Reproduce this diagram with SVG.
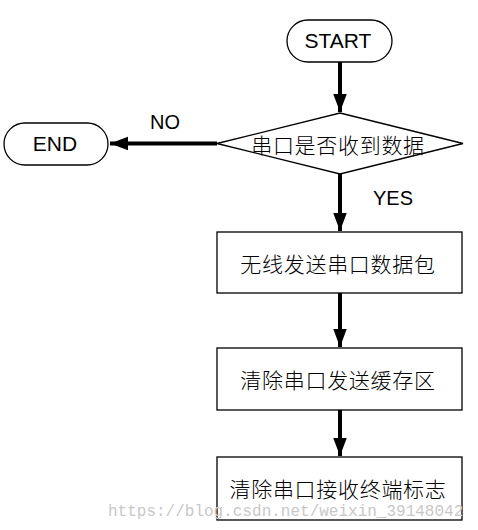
<svg xmlns="http://www.w3.org/2000/svg" width="478" height="530" viewBox="0 0 478 530">
<style>
.shape{fill:#fff;stroke:#000;stroke-width:1.3}
.t{font-family:"Liberation Sans","Noto Sans CJK SC",sans-serif;font-size:21px;fill:#000;text-anchor:middle;dominant-baseline:central}
.c{font-family:"Noto Sans CJK SC","Liberation Sans",sans-serif;font-size:21px;font-weight:300;fill:#000;text-anchor:middle;dominant-baseline:central;letter-spacing:0.7px}
.conn{stroke:#000;stroke-width:4;fill:none}
.wm{font-family:"Liberation Mono",monospace;font-size:16px;fill:#c8c8c8}
</style>
<defs>
<marker id="ah" markerUnits="userSpaceOnUse" markerWidth="18" markerHeight="24" viewBox="0 0 24 18" refX="24" refY="9" orient="auto">
<path d="M0,0 L24,9 L0,18 Z" fill="#000"/>
</marker>
</defs>
<g id="connectors">
<path class="conn" d="M340,62 L340,112" marker-end="url(#ah)"/>
<path class="conn" d="M217,143.5 L110,143.5" marker-end="url(#ah)"/>
<path class="conn" d="M340,174 L340,231" marker-end="url(#ah)"/>
<path class="conn" d="M340,293 L340,347" marker-end="url(#ah)"/>
<path class="conn" d="M340,410 L340,456" marker-end="url(#ah)"/>
<text class="t" x="165" y="122" style="font-size:20px">NO</text>
<text class="t" x="393" y="198" style="font-size:20px">YES</text>
</g>
<g id="start">
<rect class="shape" x="287" y="20" width="105" height="42" rx="21"/>
<text class="t" x="338" y="40">START</text>
</g>
<g id="end">
<rect class="shape" x="4" y="123" width="104" height="42" rx="21"/>
<text class="t" x="55" y="143">END</text>
</g>
<g id="decision">
<polygon class="shape" points="340,113 463,143.5 340,174 217,143.5"/>
<text class="c" x="338" y="144">串口是否收到数据</text>
</g>
<g id="send">
<rect class="shape" x="217" y="232" width="245" height="61"/>
<text class="c" x="338" y="263">无线发送串口数据包</text>
</g>
<g id="clear-tx">
<rect class="shape" x="217" y="348" width="245" height="62"/>
<text class="c" x="338" y="379">清除串口发送缓存区</text>
</g>
<g id="clear-rx">
<rect class="shape" x="217" y="457" width="245" height="63"/>
<text class="c" x="338" y="488">清除串口接收终端标志</text>
</g>
<text class="wm" x="108" y="516">https://blog.csdn.net/weixin_39148042</text>
</svg>
